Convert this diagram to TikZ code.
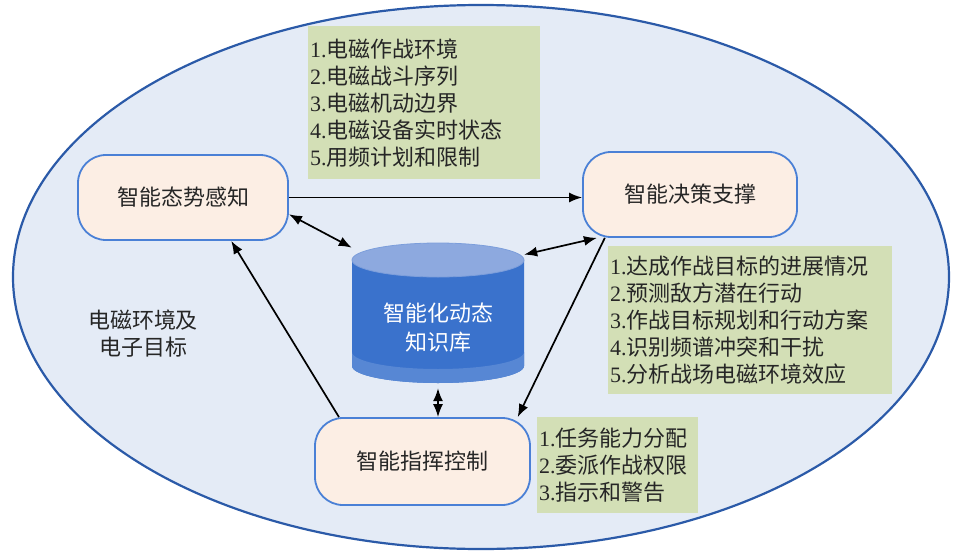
\documentclass[tikz,border=0pt]{standalone}
\usepackage{fontspec}
\setmainfont{Liberation Serif}
\newfontfamily\cjk{Noto Sans CJK SC}
\usetikzlibrary{arrows.meta}

\definecolor{envfill}{HTML}{E4EBF6}
\definecolor{envline}{HTML}{2B5AA8}
\definecolor{boxfill}{HTML}{FCEEE4}
\definecolor{boxline}{HTML}{4A80D6}
\definecolor{notefill}{HTML}{D3DFB6}
\definecolor{kbbody}{HTML}{3A72CC}
\definecolor{kbtop}{HTML}{8DA9DF}

\tikzset{
  unit/.style={draw=boxline, line width=1.8pt, fill=boxfill, rounded corners=28pt,
    minimum height=85pt, font=\cjk\fontsize{22}{27}\selectfont, text=black!85},
  note/.style={fill=notefill, anchor=north west, align=left, inner xsep=2pt, inner ysep=0pt,
    font=\fontsize{22}{27}\selectfont, text=black!85},
  link/.style={line width=1.7pt, -{Latex[length=13pt,width=10pt]}},
  twoway/.style={line width=1.7pt, {Latex[length=13pt,width=10pt]}-{Latex[length=13pt,width=10pt]}},
}

\begin{document}
\begin{tikzpicture}[x=1pt, y=-1pt]
    \useasboundingbox (0,0) rectangle (954,552);

    % Electromagnetic environment
    \draw[envline, line width=2.2pt, fill=envfill] (481,277) ellipse[x radius=468, y radius=272];
    \node[font=\cjk\fontsize{22}{27}\selectfont, align=center, text=black!85] (env) at (143,334) {电磁环境及\\电子目标};

    % Knowledge base cylinder
    \fill[kbbody] (352,260) -- (352,366) arc[start angle=180, end angle=0, x radius=86, y radius=17] -- (524,260) -- cycle;
    \fill[kbbody!85!white] (352,352) -- (352,366) arc[start angle=180, end angle=0, x radius=86, y radius=17] -- (524,352) arc[start angle=0, end angle=180, x radius=86, y radius=17] -- cycle;
    \draw[kbtop!80!kbbody, line width=0.8pt, fill=kbtop] (438,260) ellipse[x radius=86, y radius=17];
    \node[minimum width=172pt, minimum height=146pt, inner sep=0pt] (kb) at (438,315) {};
    \node[font=\cjk\fontsize{22}{29}\selectfont, align=center, text=white] (kbname) at (438,328) {智能化动态\\知识库};

    % Functions
    \node[unit, minimum width=210pt] (sense) at (183,197.5) {智能态势感知};
    \node[unit, minimum width=214pt] (decide) at (690,194.5) {智能决策支撑};
    \node[unit, minimum width=215pt, minimum height=87pt] (command) at (422.5,461.5) {智能指挥控制};

    % Notes
    \node[note, text width=228pt, minimum height=153pt] (sensenote) at (308,26)
      {1.{\cjk 电磁作战环境}\\2.{\cjk 电磁战斗序列}\\3.{\cjk 电磁机动边界}\\4.{\cjk 电磁设备实时状态}\\5.{\cjk 用频计划和限制}};
    \node[note, text width=280pt, minimum height=148pt] (decidenote) at (608,246)
      {1.{\cjk 达成作战目标的进展情况}\\2.{\cjk 预测敌方潜在行动}\\3.{\cjk 作战目标规划和行动方案}\\4.{\cjk 识别频谱冲突和干扰}\\5.{\cjk 分析战场电磁环境效应}};
    \node[note, text width=157pt, minimum height=96pt] (commandnote) at (537,417)
      {1.{\cjk 任务能力分配}\\2.{\cjk 委派作战权限}\\3.{\cjk 指示和警告}};

    % Connectors
    \draw[link] (sense.east) -- (sense.east -| decide.west);
    \draw[twoway] (sense.-9) -- (kb.142);
    \draw[twoway] (decide.205) -- (kb.35);
    \draw[link] (decide.207) -- (command.25);
    \draw[twoway] (kb.south) -- (kb.south |- command.north);
    \draw[link] (command.152) -- (sense.-42);
\end{tikzpicture}
\end{document}
